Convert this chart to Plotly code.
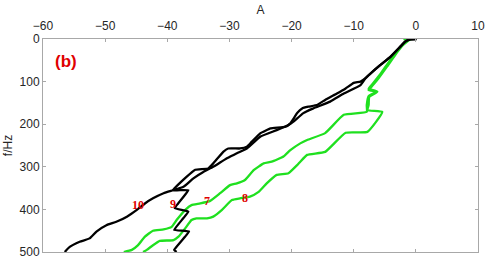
import plotly.graph_objects as go

# Black mode curve 10
A10 = [0.1, -0.9, -1.7, -2.5, -4.1, -5.7, -7.3, -8.1, -8.9, -11.6, -13.8, -16.5, -18.1, -19.7, -20.5, -22.4,
       -25.0, -27.2, -28.8, -30.4, -32.6, -34.2, -35.8, -37.4, -39.1, -40.6, -42.3, -43.6, -44.9, -46.5,
       -48.2, -49.8, -51.4, -52.5, -54.1, -55.7, -56.5]
f10 = [0, 0.7, 6, 18, 42, 61, 81, 92, 108, 128, 147, 163, 174, 194, 202, 214,
       229, 257, 268, 280, 300, 312, 327, 347, 355, 362, 374, 386, 401, 417,
       429, 437, 452, 468, 476, 488, 500]

# Black mode curve 9 (zig-zag)
A9 = [0.1, -0.9, -1.7, -2.5, -4.1, -5.7, -7.3, -8.1, -8.9, -10.0, -11.3, -12.7, -14.6, -15.9, -17.3, -18.3,
      -19.1, -20.2, -21.0, -23.4, -25.0, -26.4, -27.2, -28.3, -30.2, -31.0, -32.6, -33.4, -35.5, -37.0,
      -39.1, -36.6, -38.8, -36.6, -38.9, -36.5, -38.9, -38.5]
f9 = [0, 0.7, 6, 18, 42, 61, 81, 92, 100, 103, 116, 128, 143, 155, 159, 163,
      174, 198, 206, 210, 221, 241, 253, 257, 257, 265, 292, 304, 307, 325,
      355, 355, 397, 405, 448, 452, 495, 500]

# Green mode curve 7
A7 = [-2.0, -1.0, -2.5, -4.1, -5.7, -7.0, -7.6, -6.3, -7.6, -7.9, -7.9, -11.6, -14.6, -17.5, -18.6, -20.2,
      -21.3, -23.2, -24.5, -26.1, -27.5, -28.8, -29.9, -31.5, -33.1, -34.7, -36.1, -37.1, -38.5, -39.3,
      -40.6, -42.3, -43.6, -44.7, -45.7, -47.0]
f7 = [0, 1, 19, 49, 82, 106, 117, 123, 134, 155, 171, 178, 221, 237, 245, 261,
      276, 288, 292, 308, 331, 339, 343, 362, 380, 386, 390, 401, 425, 441,
      447, 450, 464, 484, 495, 500]

# Green mode curve 8
A8 = [-0.7, -1.7, -3.1, -4.7, -6.2, -7.3, -7.6, -6.2, -7.5, -7.6, -7.8, -5.4, -7.8, -11.3, -14.6, -17.5,
      -18.6, -19.1, -20.5, -22.4, -24.0, -25.3, -26.7, -28.3, -29.6, -31.2, -32.6, -33.6, -35.3, -36.1,
      -37.1, -38.2, -39.0, -41.2, -42.3, -43.3, -43.9]
f8 = [0, 7, 33, 66, 96, 115, 120, 124, 136, 155, 167, 171, 218, 220, 265, 272,
      288, 296, 315, 319, 339, 359, 370, 374, 378, 401, 417, 421, 421, 425,
      444, 464, 472, 474, 484, 495, 500]

label_text = ["10", "9", "7", "8"]
label_A = [-44.7, -39.1, -33.6, -27.5]
label_f = [392, 390, 382, 376]

BLACK = "#000000"
GREEN = "#1fe01f"
FONT = "Arial, Liberation Sans, sans-serif"

fig = go.Figure()
for xs, ys, c, sm in [(A8, f8, GREEN, 0.4), (A7, f7, GREEN, 0.4), (A9, f9, BLACK, 0.25), (A10, f10, BLACK, 0.5)]:
    fig.add_trace(go.Scatter(x=xs, y=ys, mode="lines",
                             line=dict(color=c, width=2.3, shape="spline", smoothing=sm),
                             showlegend=False, hoverinfo="skip"))

fig.add_trace(go.Scatter(x=label_A, y=label_f, mode="text", text=[f"<b>{t}</b>" for t in label_text],
                         textfont=dict(family="Liberation Serif, Times New Roman, serif",
                                       size=12, color="#e00000"),
                         textposition="middle center", showlegend=False, hoverinfo="skip"))

fig.add_annotation(x=-56.3, y=52, text="<b>(b)</b>", showarrow=False,
                   font=dict(family=FONT, size=17, color="#e00000"))

axis_common = dict(showgrid=False, zeroline=False, showline=True, linecolor="#a8a8a8", linewidth=1,
                   mirror="ticks", ticks="inside", ticklen=3, tickcolor="#a8a8a8", automargin=False,
                   ticklabeloverflow="allow",
                   tickfont=dict(family=FONT, size=12, color="#262626"))

fig.update_layout(
    width=488, height=263,
    margin=dict(l=43, r=10, t=39, b=11),
    paper_bgcolor="white", plot_bgcolor="white",
    xaxis=dict(range=[-60, 10], dtick=10, side="top", ticklabelstandoff=3,
               title=dict(text="A", standoff=2, font=dict(family=FONT, size=12, color="#262626")),
               **axis_common),
    yaxis=dict(range=[500, 0], dtick=100,
               title=dict(text="f/Hz", standoff=4, font=dict(family=FONT, size=12, color="#262626")),
               **axis_common),
)

fig.write_html("out.html", config={"displayModeBar": False},
               post_script="document.body.style.margin='0';")
